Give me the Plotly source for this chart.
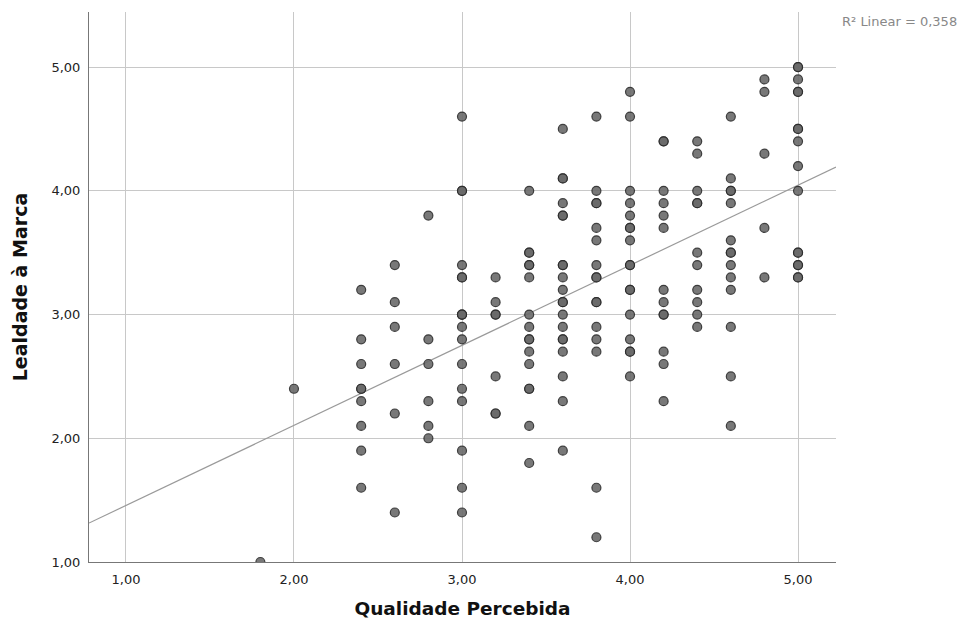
import numpy as np
import plotly.graph_objects as go

# Data (x: Qualidade Percebida, y: Lealdade à Marca)
columns = {
    1.8: [1.0],
    2.0: [2.4],
    2.4: [3.2, 2.8, 2.6, 2.4, 2.4, 2.3, 2.1, 1.9, 1.6],
    2.6: [3.4, 3.1, 2.9, 2.6, 2.2, 1.4],
    2.8: [3.8, 2.8, 2.6, 2.3, 2.1, 2.0],
    3.0: [4.6, 4.0, 4.0, 3.4, 3.3, 3.3, 3.0, 3.0, 3.0, 2.9, 2.8, 2.6, 2.4, 2.3, 1.9, 1.6, 1.4],
    3.2: [3.3, 3.1, 3.0, 3.0, 2.5, 2.2, 2.2],
    3.4: [4.0, 3.5, 3.5, 3.4, 3.4, 3.3, 3.0, 2.9, 2.8, 2.8, 2.7, 2.6, 2.4, 2.4, 2.1, 1.8],
    3.6: [4.5, 4.1, 4.1, 3.9, 3.8, 3.8, 3.4, 3.4, 3.3, 3.2, 3.1, 3.1, 3.0, 2.9, 2.8, 2.8, 2.7, 2.5, 2.3, 1.9],
    3.8: [4.6, 4.0, 3.9, 3.9, 3.7, 3.6, 3.4, 3.3, 3.3, 3.1, 3.1, 2.9, 2.8, 2.7, 1.6, 1.2],
    4.0: [4.8, 4.6, 4.0, 3.9, 3.8, 3.7, 3.7, 3.6, 3.4, 3.4, 3.2, 3.2, 3.0, 2.8, 2.7, 2.7, 2.5],
    4.2: [4.4, 4.4, 4.0, 3.9, 3.8, 3.7, 3.2, 3.1, 3.0, 3.0, 2.7, 2.6, 2.3],
    4.4: [4.4, 4.3, 4.0, 3.9, 3.9, 3.5, 3.4, 3.2, 3.1, 3.0, 2.9],
    4.6: [4.6, 4.1, 4.0, 4.0, 3.9, 3.6, 3.5, 3.5, 3.4, 3.3, 3.2, 2.9, 2.5, 2.1],
    4.8: [4.9, 4.8, 4.3, 3.7, 3.3],
    5.0: [5.0, 5.0, 4.9, 4.8, 4.8, 4.5, 4.5, 4.4, 4.2, 4.0, 3.5, 3.5, 3.4, 3.4, 3.3, 3.3],
}
qualidade = [x for x, ys in columns.items() for _ in ys]
lealdade = [y for ys in columns.values() for y in ys]

# Linear fit line as drawn in the reference
fit_intercept = 0.81
fit_slope = 0.647

tick_vals = [1, 2, 3, 4, 5]
tick_text = ["1,00", "2,00", "3,00", "4,00", "5,00"]
r2_label = "R² Linear = 0,358"

x_range = [0.78, 5.226]
y_range = [1.0, 5.445]

line_x = np.array(x_range)
line_y = fit_slope * line_x + fit_intercept

fig = go.Figure()
fig.add_trace(go.Scatter(
    x=line_x, y=line_y, mode="lines",
    line=dict(color="#9a9a9a", width=1.2),
    hoverinfo="skip", showlegend=False,
))
fig.add_trace(go.Scatter(
    x=qualidade, y=lealdade, mode="markers",
    marker=dict(size=9, color="rgba(105,105,105,0.9)",
                line=dict(color="rgba(40,40,40,0.85)", width=1.2)),
    showlegend=False,
))

fig.update_layout(
    width=959, height=618,
    margin=dict(l=81, r=131, t=4, b=64),
    paper_bgcolor="white", plot_bgcolor="white",
    font=dict(family="DejaVu Sans", size=13, color="#222"),
    xaxis=dict(
        range=x_range, tickvals=tick_vals, ticktext=tick_text,
        showgrid=True, gridcolor="#c8c8c8", gridwidth=1,
        showline=True, linecolor="#777", linewidth=1, zeroline=False,
        ticks="", ticklen=0, ticklabelstandoff=5,
        title=dict(text="<b>Qualidade Percebida</b>", font=dict(size=18.5, color="#111"), standoff=16),
    ),
    yaxis=dict(
        range=y_range, tickvals=tick_vals, ticktext=tick_text,
        showgrid=True, gridcolor="#c8c8c8", gridwidth=1,
        showline=True, linecolor="#777", linewidth=1, zeroline=False,
        ticks="", ticklen=0, ticklabelstandoff=5,
        title=dict(text="<b>Lealdade à Marca</b>", font=dict(size=19, color="#111"), standoff=18),
    ),
    annotations=[dict(
        text=r2_label, xref="paper", yref="paper", x=1.0, y=1.0,
        xanchor="left", yanchor="top", xshift=4, yshift=0, showarrow=False,
        font=dict(size=13, color="#888"),
    )],
)

fig.write_html("out.html")
